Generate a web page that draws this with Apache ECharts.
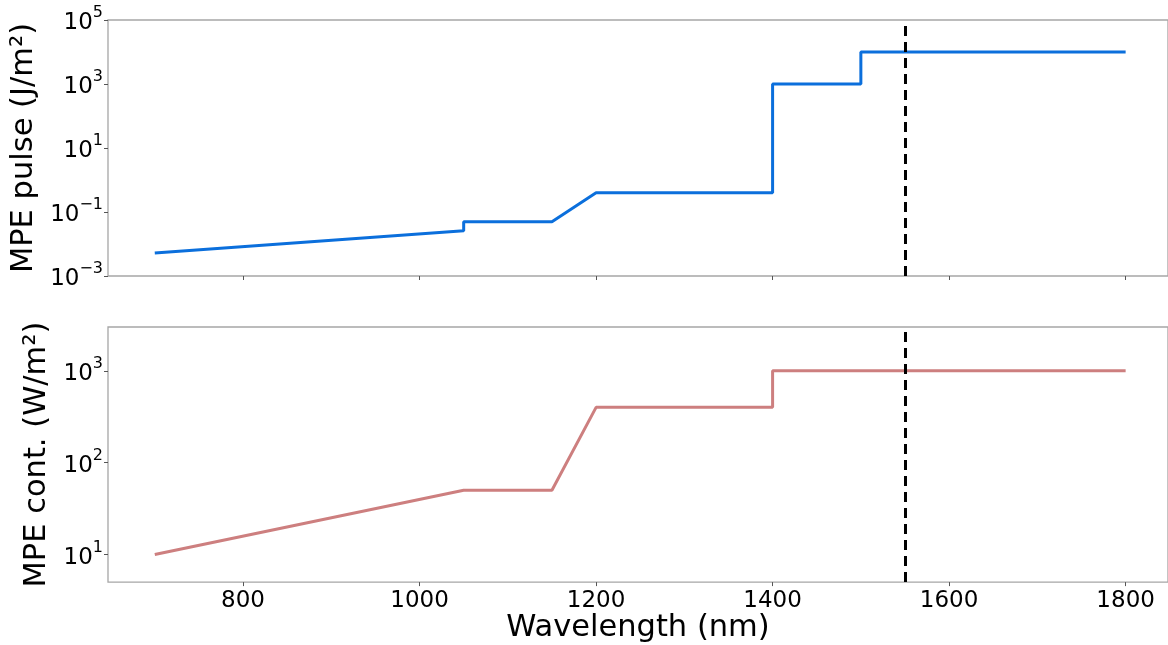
<!DOCTYPE html>
<html>
<head>
<meta charset="utf-8">
<script src="https://cdn.jsdelivr.net/npm/echarts@6/dist/echarts.min.js"></script>
<style>
html,body{margin:0;padding:0;background:#fff;}
#chart{width:1168px;height:645px;}
</style>
</head>
<body>
<div id="chart"></div>
<script>
// ---- data ----
const pulseWavelength = [700, 1050, 1050, 1150, 1200, 1400, 1400, 1500, 1500, 1800];
const pulseMPE = [0.0052, 0.026, 0.05, 0.05, 0.4, 0.4, 1000, 1000, 10000, 10000];
const contWavelength = [700, 1050, 1150, 1200, 1400, 1400, 1800];
const contMPE = [10, 50, 50, 400, 400, 1000, 1000];
const markerWavelength = 1550;
const xTickValues = [800, 1000, 1200, 1400, 1600, 1800];
const pulseTickValues = [1e-3, 1e-1, 1e1, 1e3, 1e5];
const contTickValues = [10, 100, 1000];
const contMinorTicks = [6, 7, 8, 9, 20, 30, 40, 50, 60, 70, 80, 90, 200, 300, 400, 500, 600, 700, 800, 900, 2000];

const FONT = 'DejaVu Sans';
const SPINE = '#a6a6a6';

function supLabel(v) {
  const e = Math.round(Math.log10(v));
  const s = e < 0 ? '\u2212' + Math.abs(e) : String(e);
  return '{b|10}{s|' + s + '}';
}
const richSup = {
  b: { fontFamily: FONT, fontSize: 23, color: '#000', lineHeight: 30, verticalAlign: 'bottom' },
  s: { fontFamily: FONT, fontSize: 16, color: '#000', lineHeight: 30, verticalAlign: 'top' }
};

const pairs = (xs, ys) => xs.map((x, i) => [x, ys[i]]);

const chart = echarts.init(document.getElementById('chart'), null, { renderer: 'canvas' });

const xCommon = {
  type: 'value', min: 647, max: 1848,
  axisLine: { show: false },
  splitLine: { show: false },
  axisTick: { show: true, length: 4, lineStyle: { color: '#555' }, customValues: xTickValues }
};

const markLineDef = {
  silent: true,
  symbol: ['none', 'none'],
  label: { show: false },
  lineStyle: { color: '#000', width: 3, type: [10, 6] },
  data: [{ xAxis: markerWavelength }],
  animation: false
};

chart.setOption({
  animation: false,
  grid: [
    { left: 108, right: 0, top: 20, height: 256, show: true, borderColor: SPINE, borderWidth: 1.3 },
    { left: 108, right: 0, top: 327, height: 257, show: true, borderColor: SPINE, borderWidth: 1.3 }
  ],
  xAxis: [
    Object.assign({}, xCommon, { gridIndex: 0, axisLabel: { show: false } }),
    Object.assign({}, xCommon, {
      gridIndex: 1,
      axisLabel: { show: true, customValues: xTickValues, formatter: v => String(v), fontFamily: FONT, fontSize: 23, color: '#000', margin: 7 },
      name: 'Wavelength (nm)', nameLocation: 'middle', nameGap: 26,
      nameTextStyle: { fontFamily: FONT, fontSize: 30.5, color: '#000' }
    })
  ],
  yAxis: [
    {
      type: 'log', logBase: 10, gridIndex: 0, min: 1e-3, max: 1e5,
      axisLine: { show: false }, splitLine: { show: false },
      axisTick: { show: true, length: 4, lineStyle: { color: '#555' }, customValues: pulseTickValues },
      axisLabel: { customValues: pulseTickValues, formatter: supLabel, rich: richSup, margin: 5 },
      name: 'MPE pulse (J/m\u00b2)', nameLocation: 'middle', nameGap: 66,
      nameTextStyle: { fontFamily: FONT, fontSize: 30.5, color: '#000' }
    },
    {
      type: 'log', logBase: 10, gridIndex: 1, min: 5, max: 3000,
      axisLine: { show: false }, splitLine: { show: false },
      axisTick: { show: true, length: 4, lineStyle: { color: '#555' }, customValues: contTickValues },
      axisLabel: { customValues: contTickValues, formatter: supLabel, rich: richSup, margin: 5 },
      name: 'MPE cont. (W/m\u00b2)', nameLocation: 'middle', nameGap: 54,
      nameTextStyle: { fontFamily: FONT, fontSize: 30.5, color: '#000' }
    },
    {
      type: 'log', logBase: 10, gridIndex: 1, min: 5, max: 3000,
      axisLine: { show: false }, splitLine: { show: false },
      axisTick: { show: true, length: 2.5, lineStyle: { color: '#777' }, customValues: contMinorTicks },
      axisLabel: { show: false }
    }
  ],
  series: [
    {
      type: 'line', xAxisIndex: 0, yAxisIndex: 0, data: pairs(pulseWavelength, pulseMPE),
      showSymbol: false, symbol: 'none', lineStyle: { color: '#0b6fdc', width: 3 }, color: '#0b6fdc',
      markLine: markLineDef
    },
    {
      type: 'line', xAxisIndex: 1, yAxisIndex: 1, data: pairs(contWavelength, contMPE),
      showSymbol: false, symbol: 'none', lineStyle: { color: '#cd7f7f', width: 3 }, color: '#cd7f7f',
      markLine: markLineDef
    }
  ]
});
</script>
</body>
</html>
